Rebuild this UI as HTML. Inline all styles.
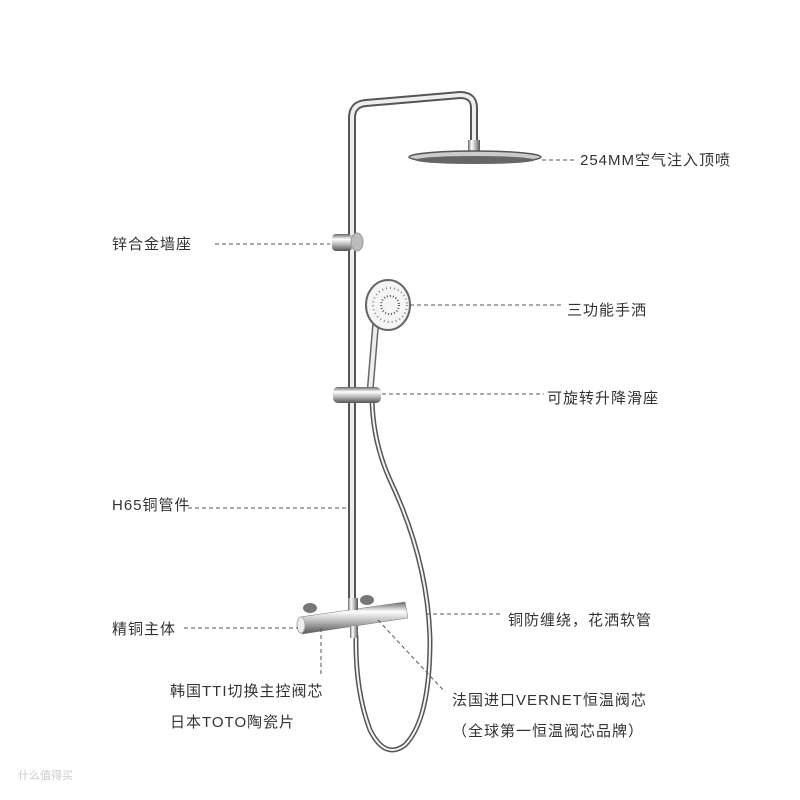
<!DOCTYPE html>
<html><head><meta charset="utf-8"><style>
html,body{margin:0;padding:0;background:#fff;width:800px;height:800px;overflow:hidden}
svg{display:block}
text{font-family:"Liberation Sans","Noto Sans CJK SC",sans-serif;font-size:15px;letter-spacing:1px;fill:#333}
</style></head><body>
<svg width="800" height="800" viewBox="0 0 800 800">
<defs>
<linearGradient id="cv" x1="0" x2="1" y1="0" y2="0">
<stop offset="0" stop-color="#666"/><stop offset=".3" stop-color="#fff"/><stop offset=".6" stop-color="#bbb"/><stop offset="1" stop-color="#555"/></linearGradient>
<linearGradient id="ch" x1="0" x2="0" y1="0" y2="1">
<stop offset="0" stop-color="#666"/><stop offset=".3" stop-color="#fff"/><stop offset=".6" stop-color="#bbb"/><stop offset="1" stop-color="#555"/></linearGradient>
</defs>
<g fill="none" stroke-linecap="round">
<path d="M352 610 L352 118 Q352 104 366 103 L460 95 Q474 95 474 108 L474 150" stroke="#555" stroke-width="8"/>
<path d="M352 610 L352 118 Q352 104 366 103 L460 95 Q474 95 474 108 L474 150" stroke="#eee" stroke-width="4"/>
<path d="M356 636 Q355 690 370 730 Q385 760 405 745 Q430 720 430 640 Q428 560 390 480 Q372 440 372 395" stroke="#555" stroke-width="5"/>
<path d="M356 636 Q355 690 370 730 Q385 760 405 745 Q430 720 430 640 Q428 560 390 480 Q372 440 372 395" stroke="#f4f4f4" stroke-width="2"/>
<path d="M376 320 L370 392" stroke="#666" stroke-width="7"/>
<path d="M376 320 L370 392" stroke="#eee" stroke-width="4"/>
</g>
<rect x="468" y="140" width="12" height="12" fill="url(#cv)"/>
<ellipse cx="475" cy="157" rx="66" ry="6" fill="#ccc" stroke="#555" stroke-width="1.5"/>
<ellipse cx="475" cy="160" rx="60" ry="4" fill="#666"/>
<rect x="332" y="234" width="20" height="17" rx="4" fill="url(#ch)"/>
<ellipse cx="357" cy="242" rx="6" ry="9" fill="#bbb" stroke="#999"/>
<ellipse cx="388" cy="305" rx="22" ry="25" fill="#f5f5f5" stroke="#666" stroke-width="2"/>
<circle cx="390" cy="305" r="17" fill="none" stroke="#888" stroke-dasharray="1 3" stroke-width="2"/>
<circle cx="390" cy="305" r="9" fill="none" stroke="#555" stroke-dasharray="1 2" stroke-width="2"/>
<rect x="333" y="387" width="48" height="16" rx="5" fill="url(#ch)"/>
<ellipse cx="310" cy="608" rx="7" ry="5" fill="#777"/>
<ellipse cx="367" cy="600" rx="7" ry="5" fill="#777"/>
<polygon points="300,617 405,602 408,618 302,634" fill="url(#ch)" stroke="#777" stroke-width="0.5"/>
<ellipse cx="301" cy="625" rx="4" ry="8" fill="#eee" stroke="#aaa"/>
<rect x="348" y="598" width="10" height="12" fill="url(#cv)"/>
<rect x="350" y="626" width="8" height="12" fill="url(#cv)"/>
<g stroke="#555" stroke-width="1" stroke-dasharray="4 3" fill="none">
<line x1="542" y1="160" x2="574" y2="160"/>
<line x1="215" y1="244" x2="330" y2="244"/>
<line x1="410" y1="305" x2="562" y2="305"/>
<line x1="382" y1="394" x2="544" y2="394"/>
<line x1="188" y1="508" x2="348" y2="508"/>
<line x1="184" y1="628" x2="298" y2="628"/>
<line x1="426" y1="614" x2="500" y2="614"/>
<line x1="321" y1="628" x2="321" y2="675"/>
<line x1="378" y1="620" x2="445" y2="692"/>
</g>
<text x="580" y="165">254MM空气注入顶喷</text>
<text x="112" y="249">锌合金墙座</text>
<text x="567" y="315">三功能手洒</text>
<text x="547" y="403">可旋转升降滑座</text>
<text x="112" y="510">H65铜管件</text>
<text x="112" y="634">精铜主体</text>
<text x="508" y="625">铜防缠绕，花洒软管</text>
<text x="170" y="696">韩国TTI切换主控阀芯</text>
<text x="170" y="727">日本TOTO陶瓷片</text>
<text x="452" y="705">法国进口VERNET恒温阀芯</text>
<text x="452" y="736">（全球第一恒温阀芯品牌）</text>
<text x="18" y="779" style="font-size:11px;letter-spacing:0;fill:#ccc">什么值得买</text>
</svg>
</body></html>
